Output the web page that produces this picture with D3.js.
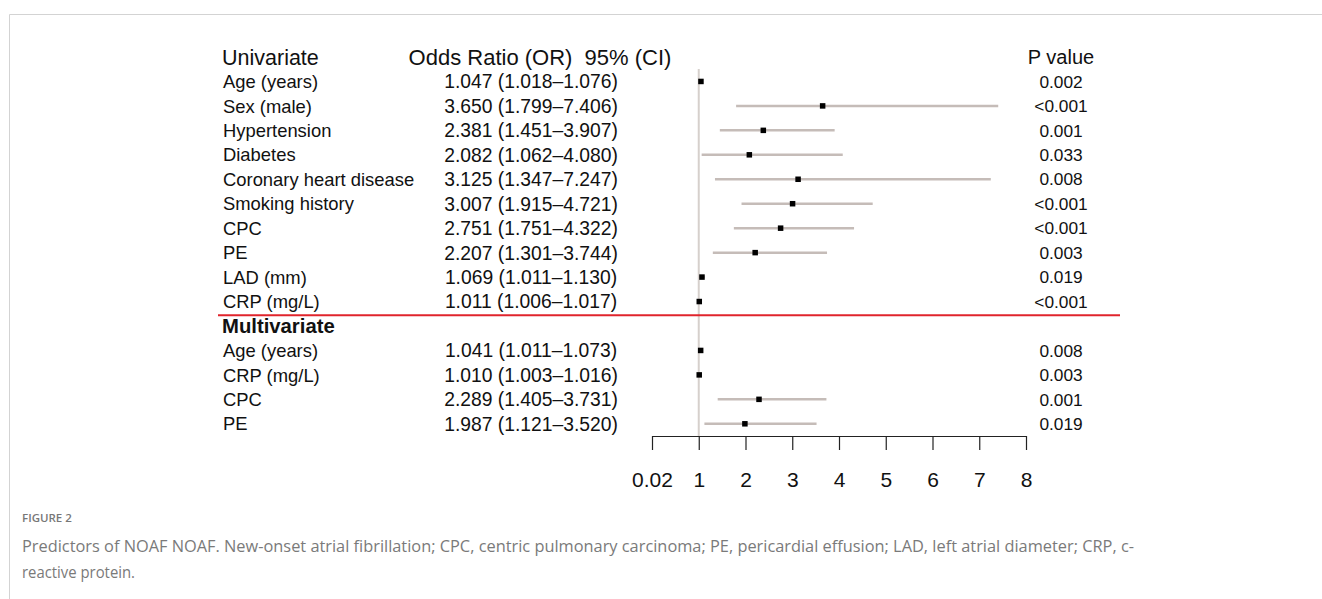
<!DOCTYPE html>
<html>
<head>
<meta charset="utf-8">
<script src="https://cdn.jsdelivr.net/npm/d3@7"></script>
<style>
  body { margin: 0; background: #fff; }
  svg { display: block; }
  text { white-space: pre; }
</style>
</head>
<body>
<svg id="chart" width="1322" height="599"></svg>
<script>
// ---- data ----
const uniLabels = ["Age (years)", "Sex (male)", "Hypertension", "Diabetes", "Coronary heart disease",
  "Smoking history", "CPC", "PE", "LAD (mm)", "CRP (mg/L)"];
const uniOR    = [1.047, 3.650, 2.381, 2.082, 3.125, 3.007, 2.751, 2.207, 1.069, 1.011];
const uniLower = [1.018, 1.799, 1.451, 1.062, 1.347, 1.915, 1.751, 1.301, 1.011, 1.006];
const uniUpper = [1.076, 7.406, 3.907, 4.080, 7.247, 4.721, 4.322, 3.744, 1.130, 1.017];
const uniP     = ["0.002", "<0.001", "0.001", "0.033", "0.008", "<0.001", "<0.001", "0.003", "0.019", "<0.001"];

const multiLabels = ["Age (years)", "CRP (mg/L)", "CPC", "PE"];
const multiOR    = [1.041, 1.010, 2.289, 1.987];
const multiLower = [1.011, 1.003, 1.405, 1.121];
const multiUpper = [1.073, 1.016, 3.731, 3.520];
const multiP     = ["0.008", "0.003", "0.001", "0.019"];

const tickValues = [0, 1, 2, 3, 4, 5, 6, 7, 8];
const tickLabels = ["0.02", "1", "2", "3", "4", "5", "6", "7", "8"];

const headerLabels = ["Univariate", "Multivariate"];
const colHeaders = ["Odds Ratio (OR)  95% (CI)", "P value"];
const figureLabel = "FIGURE 2";
const captionLines = [
  "Predictors of NOAF NOAF. New-onset atrial fibrillation; CPC, centric pulmonary carcinoma; PE, pericardial effusion; LAD, left atrial diameter; CRP, c-",
  "reactive protein."
];

// ---- build rows ----
const rows = [];
rows.push({ type: "group", label: headerLabels[0], weight: "normal", size: 21.5 });
uniLabels.forEach((l, i) => rows.push({ type: "row", label: l, or: uniOR[i], lo: uniLower[i], hi: uniUpper[i], p: uniP[i] }));
rows.push({ type: "group", label: headerLabels[1], weight: "bold", size: 20.3 });
multiLabels.forEach((l, i) => rows.push({ type: "row", label: l, or: multiOR[i], lo: multiLower[i], hi: multiUpper[i], p: multiP[i] }));
rows.forEach((r, i) => r.idx = i);

const fmt = d3.format(".3f");
const svg = d3.select("#chart");
const FONT = "'Liberation Sans', Arial, Helvetica, sans-serif";

// frame
svg.append("rect").attr("width", 1322).attr("height", 599).attr("fill", "#fff");
svg.append("path").attr("d", "M9.5,599 L9.5,14.5 L1322,14.5")
  .attr("fill", "none").attr("stroke", "#d3d3d3").attr("stroke-width", 1);

// scales
const x = d3.scaleLinear().domain([0, 8]).range([652, 1026]);
const y = d3.scaleLinear().domain([0, rows.length - 1]).range([57, 423.8]);

const colLabelX = 223, colORX = 531, colPX = 1061;

// reference line at OR = 1
svg.append("line")
  .attr("x1", x(1)).attr("x2", x(1))
  .attr("y1", 69).attr("y2", 436)
  .attr("stroke", "#d6d0cc").attr("stroke-width", 2);

// separator line
svg.append("line")
  .attr("x1", 218).attr("x2", 1120)
  .attr("y1", (y(10) + y(11)) / 2 + 1.5).attr("y2", (y(10) + y(11)) / 2 + 1.5)
  .attr("stroke", "#e0242c").attr("stroke-width", 2.2);

// column headers
svg.append("text").attr("x", 540).attr("y", y(0)).attr("dy", "0.36em")
  .attr("text-anchor", "middle").attr("font-family", FONT).attr("font-size", 22)
  .attr("fill", "#111").text(colHeaders[0]);
svg.append("text").attr("x", colPX).attr("y", y(0)).attr("dy", "0.36em")
  .attr("text-anchor", "middle").attr("font-family", FONT).attr("font-size", 20)
  .attr("fill", "#111").text(colHeaders[1]);

const dataRows = rows.filter(r => r.type === "row");
const groupRows = rows.filter(r => r.type === "group");

// group labels
svg.selectAll(".grp").data(groupRows).join("text")
  .attr("class", "grp")
  .attr("x", colLabelX - 1).attr("y", d => y(d.idx)).attr("dy", "0.36em")
  .attr("font-family", FONT).attr("font-size", d => d.size).attr("font-weight", d => d.weight)
  .attr("fill", "#111").text(d => d.label);

// row labels
svg.selectAll(".lab").data(dataRows).join("text")
  .attr("class", "lab")
  .attr("x", colLabelX).attr("y", d => y(d.idx)).attr("dy", "0.36em")
  .attr("font-family", FONT).attr("font-size", 18.4).attr("fill", "#111")
  .text(d => d.label);

// OR text
svg.selectAll(".ortext").data(dataRows).join("text")
  .attr("class", "ortext")
  .attr("x", colORX).attr("y", d => y(d.idx)).attr("dy", "0.36em")
  .attr("text-anchor", "middle")
  .attr("font-family", FONT).attr("font-size", 19.3).attr("fill", "#111")
  .text(d => `${fmt(d.or)} (${fmt(d.lo)}\u2013${fmt(d.hi)})`);

// P text
svg.selectAll(".ptext").data(dataRows).join("text")
  .attr("class", "ptext")
  .attr("x", colPX).attr("y", d => y(d.idx)).attr("dy", "0.36em")
  .attr("text-anchor", "middle")
  .attr("font-family", FONT).attr("font-size", 17.3).attr("fill", "#111")
  .text(d => d.p);

// CI lines
svg.selectAll(".ci").data(dataRows).join("line")
  .attr("class", "ci")
  .attr("x1", d => x(d.lo)).attr("x2", d => x(d.hi))
  .attr("y1", d => y(d.idx)).attr("y2", d => y(d.idx))
  .attr("stroke", "#c5bcb8").attr("stroke-width", 2.5);

// point estimates
svg.selectAll(".pt").data(dataRows).join("rect")
  .attr("class", "pt")
  .attr("x", d => x(d.or) - 2.75).attr("y", d => y(d.idx) - 2.75)
  .attr("width", 5.5).attr("height", 5.5).attr("fill", "#000");

// x axis
const axis = d3.axisBottom(x)
  .tickValues(tickValues)
  .tickFormat((d, i) => tickLabels[i])
  .tickSize(14).tickSizeOuter(0).tickPadding(22);
const gAxis = svg.append("g").attr("transform", "translate(0,436)").call(axis);
gAxis.select(".domain").attr("stroke", "#222").attr("stroke-width", 1.2);
gAxis.selectAll(".tick line").attr("stroke", "#222").attr("stroke-width", 1.2);
gAxis.selectAll(".tick text").attr("font-family", FONT).attr("font-size", 21).attr("fill", "#111");

// caption
const CAPFONT = "'Open Sans', Lato, sans-serif";
svg.append("text").attr("x", 22).attr("y", 522)
  .attr("font-family", CAPFONT).attr("font-size", 11.5).attr("font-weight", 600)
  .attr("fill", "#777").text(figureLabel);
svg.append("text").attr("x", 22).attr("y", 552)
  .attr("font-family", CAPFONT).attr("font-size", 16.5)
  .attr("fill", "#7a7a7a")
  .attr("textLength", 1112).attr("lengthAdjust", "spacingAndGlyphs")
  .text(captionLines[0]);
svg.append("text").attr("x", 22).attr("y", 578)
  .attr("font-family", CAPFONT).attr("font-size", 16.5)
  .attr("fill", "#7a7a7a")
  .attr("textLength", 113).attr("lengthAdjust", "spacingAndGlyphs")
  .text(captionLines[1]);
</script>
</body>
</html>
